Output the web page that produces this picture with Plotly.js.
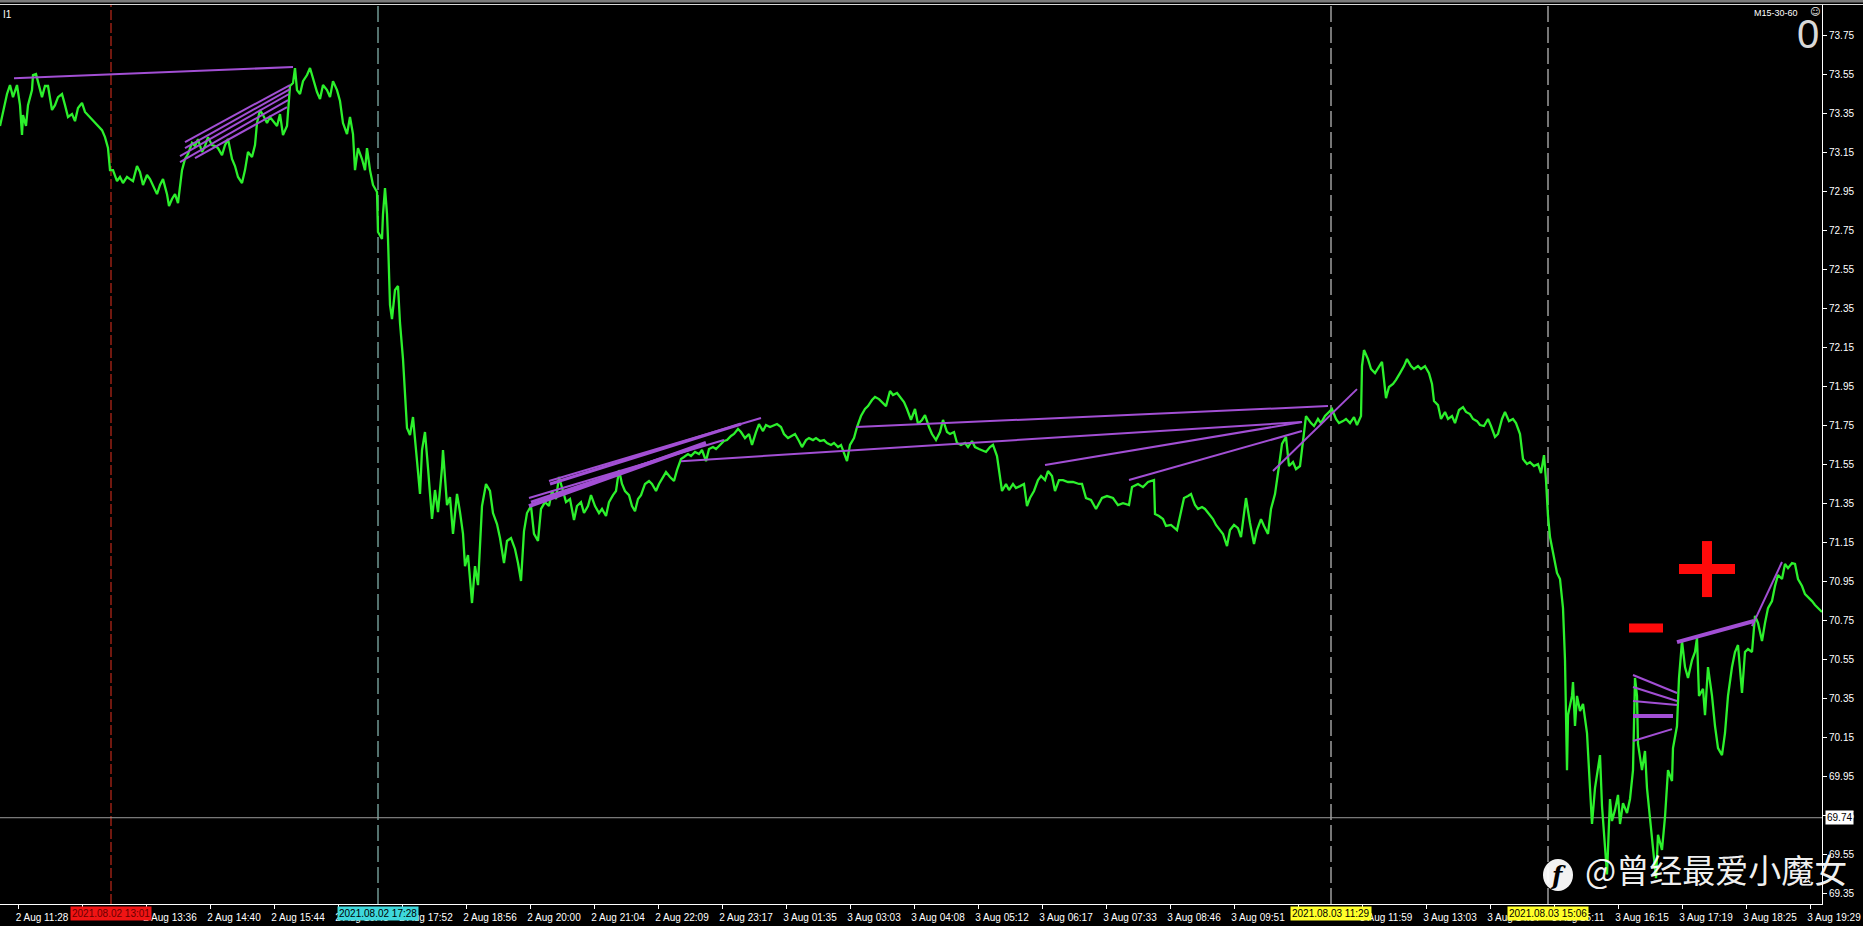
<!DOCTYPE html>
<html><head><meta charset="utf-8">
<script src="https://cdn.plot.ly/plotly-3.0.1.min.js"></script>
<style>html,body{margin:0;padding:0;background:#000;overflow:hidden}#chart{width:1863px;height:926px}</style>
</head><body><div id="chart"></div>
<script>
// ---- M1 close series (bar index, close price) ----
const bars = [0,7,10,13,17,20,22,23,26,28,32,33,36,38,42,45,48,52,55,58,62,65,68,72,75,78,82,85,88,92,97,102,105,108,110,113,117,120,123,127,130,133,137,140,143,147,150,153,157,160,163,167,169,172,175,178,180,182,185,188,192,195,198,202,205,208,212,215,218,222,225,228,232,235,238,242,245,248,252,255,257,260,263,267,270,273,277,280,283,287,290,293,295,297,300,303,307,310,313,317,320,323,327,330,333,337,340,343,347,350,353,355,358,362,365,367,370,373,377,378,382,383,385,387,388,390,392,395,398,400,403,405,407,410,413,417,420,422,425,428,432,435,438,442,443,447,450,453,457,460,463,465,468,472,475,478,
482,486,490,493,497,500,504,507,511,515,518,521,524,527,531,534,538,541,545,549,552,556,559,563,566,570,574,577,581,584,588,591,595,599,602,606,609,613,616,619,622,625,629,632,635,638,641,645,649,652,656,659,663,666,670,674,677,681,684,688,691,695,699,702,706,709,713,716,720,724,727,731,734,738,741,745,749,752,756,759,763,766,770,774,777,781,784,788,791,795,799,802,806,809,813,816,820,824,827,831,834,838,841,845,847,850,854,857,861,865,868,872,875,879,882,886,890,893,897,900,904,907,911,915,918,922,925,929,932,936,940,943,947,950,954,957,961,965,968,972,975,979,982,986,990,993,997,1000,1002,1006,1009,1013,1016,1020,1024,1027,
1030,1034,1038,1041,1045,1048,1052,1055,1059,1063,1068,1073,1079,1082,1086,1091,1096,1102,1107,1113,1118,1123,1129,1132,1138,1143,1148,1154,1155,1159,1163,1166,1171,1177,1180,1184,1188,1191,1195,1198,1202,1205,1209,1213,1216,1220,1223,1227,1230,1234,1238,1241,1245,1246,1250,1254,1257,1261,1264,1268,1271,1275,1279,1282,1286,1289,1293,1296,1300,1304,1306,1311,1314,1318,1321,1325,1329,1332,1336,1339,1343,1346,1350,1354,1357,1361,1362,1364,1368,1371,1375,1379,1382,1386,1389,1393,1396,1400,1404,1407,1411,1414,1418,1421,1425,1429,1432,1434,1438,1441,1445,1448,1452,1455,1459,1463,1466,1470,1473,1477,1480,1484,1488,1491,1495,1498,1502,1505,1509,1513,1516,1520,1523,1527,1530,1534,1538,1541,1544,1546,1548,1550,1554,1557,
1560,1563,1565,1567,1568,1572,1573,1575,1577,1580,1583,1587,1590,1592,1595,1598,1600,1602,1605,1607,1610,1612,1615,1618,1620,1623,1627,1630,1633,1635,1637,1638,1642,1645,1647,1650,1653,1656,1658,1662,1665,1668,1672,1673,1677,1679,1682,1685,1688,1692,1695,1697,1699,1703,1705,1708,1712,1715,1718,1722,1725,1728,1732,1735,1738,1742,1745,1748,1752,1755,1758,1762,1765,1768,1772,1775,1778,1782,1785,1788,1792,1795,1798,1802,1805,1808,1812,1815,1818,1822];
const closes = [73.284,73.448,73.494,73.432,73.494,73.391,73.238,73.340,73.284,73.391,73.468,73.545,73.550,73.514,73.432,73.489,73.489,73.366,73.391,73.432,73.448,73.391,73.330,73.345,73.309,73.376,73.402,73.356,73.340,73.320,73.289,73.263,73.227,73.171,73.058,73.058,73.002,73.023,72.992,73.023,73.012,73.002,73.079,73.048,72.982,73.033,73.012,72.982,72.935,72.982,73.012,72.935,72.874,72.910,72.935,72.889,72.966,73.058,73.115,73.140,73.197,73.181,73.217,73.151,73.181,73.227,73.186,73.181,73.171,73.135,73.186,73.217,73.115,73.079,73.023,72.992,73.058,73.151,73.125,73.186,73.299,73.366,73.340,73.299,73.330,73.309,73.284,73.345,73.238,73.284,73.489,73.504,73.581,73.468,73.448,73.514,73.545,73.581,73.525,73.458,73.422,73.494,73.468,73.432,73.514,73.468,73.412,73.299,73.243,73.330,73.243,73.058,73.171,73.115,73.058,73.171,73.058,72.982,72.946,72.741,72.705,72.833,72.966,72.833,72.705,72.367,72.295,72.444,72.464,72.275,72.090,71.906,71.737,71.701,71.793,71.568,71.399,71.624,71.716,71.532,71.271,71.419,71.306,71.532,71.624,71.342,71.383,71.194,71.399,71.306,71.194,71.029,71.086,70.840,71.029,70.932,
71.337,71.450,71.414,71.301,71.245,71.173,71.045,71.158,71.173,71.117,71.045,70.953,71.209,71.301,71.337,71.194,71.158,71.322,71.357,71.337,71.414,71.373,71.486,71.414,71.357,71.373,71.265,71.337,71.357,71.301,71.337,71.393,71.337,71.301,71.322,71.286,71.357,71.393,71.414,71.521,71.450,71.414,71.393,71.337,71.311,71.373,71.393,71.450,71.465,71.450,71.414,71.450,71.486,71.511,71.486,71.465,71.521,71.578,71.588,71.603,71.593,71.614,71.603,71.624,71.567,71.629,71.639,71.629,71.650,71.670,71.675,71.696,71.706,71.732,71.716,71.685,71.706,71.650,71.716,71.757,71.721,71.752,71.742,71.752,71.757,71.742,71.706,71.685,71.696,71.706,71.670,71.639,71.675,71.685,71.675,71.685,71.670,71.675,71.660,71.650,71.660,71.639,71.650,71.593,71.567,71.650,71.685,71.742,71.798,71.834,71.849,71.880,71.896,71.885,71.870,71.849,71.926,71.906,71.916,71.896,71.870,71.834,71.778,71.834,71.757,71.778,71.803,71.742,71.706,71.675,71.716,71.778,71.716,71.706,71.716,71.660,71.650,71.660,71.639,71.670,71.639,71.629,71.624,71.614,71.639,71.650,71.593,71.486,71.414,71.450,71.419,71.450,71.429,71.439,71.450,71.337,
71.378,71.414,71.470,71.491,71.470,71.516,71.491,71.414,71.470,71.470,71.460,71.460,71.450,71.450,71.378,71.368,71.322,71.378,71.388,71.378,71.342,71.352,71.342,71.434,71.450,71.434,71.460,71.470,71.296,71.286,71.270,71.235,71.240,71.214,71.286,71.378,71.388,71.398,71.342,71.322,71.332,71.322,71.296,71.270,71.240,71.214,71.194,71.132,71.214,71.240,71.224,71.178,71.322,71.378,71.250,71.142,71.214,71.270,71.235,71.194,71.322,71.398,71.542,71.655,71.691,71.542,71.562,71.526,71.542,71.706,71.798,71.762,71.747,71.783,71.762,71.798,71.819,71.834,71.783,71.762,71.772,71.783,71.762,71.793,71.752,71.798,72.054,72.136,72.090,72.039,72.018,72.054,72.075,71.890,71.947,71.962,71.983,72.018,72.054,72.090,72.054,72.039,72.054,72.039,72.054,72.018,71.962,71.875,71.854,71.783,71.819,71.783,71.798,71.762,71.829,71.844,71.819,71.808,71.783,71.772,71.752,71.747,71.783,71.747,71.691,71.706,71.783,71.819,71.772,71.783,71.762,71.706,71.578,71.552,71.562,71.542,71.552,71.506,71.598,71.470,71.286,71.178,71.065,70.994,
70.963,70.814,70.548,69.984,70.266,70.364,70.435,70.210,70.364,70.287,70.323,70.174,69.892,69.708,69.892,69.984,70.061,69.800,69.575,69.450,69.836,69.723,69.780,69.857,69.708,69.815,69.764,69.836,69.984,70.456,70.364,70.118,69.984,70.082,69.892,69.744,69.575,69.430,69.652,69.575,69.744,69.984,69.928,70.097,70.210,70.456,70.645,70.512,70.456,70.548,70.589,70.661,70.364,70.400,70.266,70.512,70.364,70.210,70.097,70.061,70.174,70.364,70.512,70.589,70.625,70.379,70.589,70.604,70.589,70.774,70.738,70.645,70.738,70.814,70.850,70.927,70.984,70.963,71.040,71.019,71.045,71.040,70.963,70.927,70.886,70.871,70.850,70.830,70.814,70.794];

// ---- time axis labels (one every 64 M1 bars) ----
const tickLabels = ["2 Aug 11:28","2 Aug 12:32","2 Aug 13:36","2 Aug 14:40","2 Aug 15:44","2 Aug 16:48","2 Aug 17:52","2 Aug 18:56","2 Aug 20:00","2 Aug 21:04","2 Aug 22:09","2 Aug 23:17","3 Aug 01:35","3 Aug 03:03","3 Aug 04:08","3 Aug 05:12","3 Aug 06:17","3 Aug 07:33","3 Aug 08:46","3 Aug 09:51","3 Aug 10:55","3 Aug 11:59","3 Aug 13:03","3 Aug 14:07","3 Aug 15:11","3 Aug 16:15","3 Aug 17:19","3 Aug 18:25","3 Aug 19:29"];
const tickLabelsCovered = [1, 20];   // fully hidden under the date boxes in the original
const firstTickBar = 18, barsPerTick = 64;

// ---- price axis ----
const priceTickStart = 69.35, priceTickStep = 0.2, priceTickCount = 23;
const priceMin = 69.298, priceMax = 73.904, lastBar = 1822;

// ---- vertical event markers ----
const eventBars = [111, 378, 1331, 1548];
const eventLabels = ["2021.08.02 13:01", "2021.08.02 17:28", "2021.08.03 11:29", "2021.08.03 15:06"];
const eventLineColors = ["#e4301e", "#a8e4dc", "#ececec", "#ececec"];
const eventBoxColors = ["#f01414", "#3ed8dc", "#ffff2a", "#ffff2a"];
const eventTextColors = ["#6a0000", "#000000", "#000000", "#000000"];

// ---- trend lines ----
const trendStartBar   = [14,185,185,180,180,195, 549,550,529,529,531, 856,681,1045,1129,1273, 1633,1633,1633,1633,1633,1677,1752];
const trendStartPrice = [73.529,73.202,73.171,73.130,73.099,73.120, 71.465,71.450,71.378,71.337,71.357, 71.742,71.567,71.547,71.470,71.516, 70.471,70.410,70.338,70.261,70.133,70.640,70.722];
const trendEndBar     = [293,290,290,289,288,287, 761,741,724,706,702, 1328,1302,1302,1302,1357, 1677,1677,1677,1673,1672,1754,1782];
const trendEndPrice   = [73.586,73.494,73.473,73.448,73.417,73.381, 71.788,71.757,71.675,71.660,71.650, 71.849,71.767,71.767,71.721,71.936, 70.379,70.338,70.317,70.261,70.194,70.748,71.050];
const trendWidth      = [2,2,2,2,2,2, 2,3,2,4,3, 2,2,2,2,2, 2,2,2,4,2,4,2];

const hLinePrice = 69.74;
const plusAnchor = {bar: 1707, price: 71.014};
const minusAnchor = {bar: 1646, price: 70.712};

// ---- layout geometry ----
const W = 1863, H = 926, M = {l: 0, r: 41, t: 5, b: 22};
const PW = W - M.l - M.r, PH = H - M.t - M.b;
const px = x => (x - M.l) / PW;            // page px -> paper x
const py = y => (H - M.b - y) / PH;        // page px -> paper y

const FONT = "Liberation Sans, Arial, sans-serif";
const traces = [{
  type: "scatter", mode: "lines", x: bars, y: closes,
  line: {color: "#2cf02c", width: 2.3}, hoverinfo: "skip"
}];
for (let i = 0; i < trendStartBar.length; i++) {
  traces.push({type: "scatter", mode: "lines",
    x: [trendStartBar[i], trendEndBar[i]], y: [trendStartPrice[i], trendEndPrice[i]],
    line: {color: "#a24fd4", width: trendWidth[i]}, hoverinfo: "skip"});
}

const shapes = [];
eventBars.forEach((b, i) => shapes.push({type: "line", xref: "x", yref: "paper", x0: b, x1: b, y0: 0, y1: 1,
  line: {color: eventLineColors[i], width: 1, dash: i === 0 ? "10px,3px" : "16px,5px"}, layer: "below"}));
shapes.push({type: "line", xref: "paper", yref: "y", x0: 0, x1: 1, y0: hLinePrice, y1: hLinePrice,
  line: {color: "#9a9a9a", width: 1}, layer: "below"});
// frame top
shapes.push({type: "rect", xref: "paper", yref: "paper", x0: 0, x1: px(W), y0: py(0), y1: py(2.5),
  fillcolor: "#7a7a7a", line: {width: 0}});
shapes.push({type: "line", xref: "paper", yref: "paper", x0: 0, x1: px(W), y0: py(4.5), y1: py(4.5),
  line: {color: "#d8d8d8", width: 1}});
// plus / minus marks (pixel-sized, anchored at chart coordinates)
const bar = (a, w, h) => ({type: "rect", xref: "x", yref: "y", xsizemode: "pixel", ysizemode: "pixel",
  xanchor: a.bar, yanchor: a.price, x0: -w / 2, x1: w / 2, y0: -h / 2, y1: h / 2,
  fillcolor: "#ff0a0a", line: {width: 0}});
shapes.push(bar(plusAnchor, 56, 10), bar(plusAnchor, 10, 56), bar(minusAnchor, 34, 9));
// watermark logo
shapes.push({type: "circle", xref: "paper", yref: "paper", x0: px(1543), x1: px(1573), y0: py(891), y1: py(859),
  fillcolor: "rgba(255,255,255,0.95)", line: {width: 0}});

const annotations = [];
eventBars.forEach((b, i) => annotations.push({xref: "x", yref: "paper", x: b, y: py(906), yanchor: "top",
  text: eventLabels[i], showarrow: false, bgcolor: eventBoxColors[i], borderpad: 1,
  font: {family: FONT, size: 10, color: eventTextColors[i]}}));
annotations.push({xref: "paper", yref: "y", x: px(1825), y: hLinePrice, xanchor: "left", yanchor: "middle",
  text: hLinePrice.toFixed(2), showarrow: false, bgcolor: "#ffffff", borderpad: 1,
  font: {family: FONT, size: 10, color: "#000"}});
annotations.push({xref: "paper", yref: "paper", x: px(1583), y: py(869), xanchor: "left", yanchor: "middle",
  text: "@曾经最爱小魔女", showarrow: false,
  font: {family: "Noto Sans CJK SC", size: 33, color: "rgba(255,255,255,0.95)"}});
annotations.push({xref: "paper", yref: "paper", x: px(1558), y: py(875), xanchor: "center", yanchor: "middle",
  text: "<b><i>f</i></b>", showarrow: false, font: {family: "DejaVu Serif", size: 24, color: "#000"}});
annotations.push({xref: "paper", yref: "paper", x: px(1), y: py(7), xanchor: "left", yanchor: "top",
  text: "I1", showarrow: false, font: {family: FONT, size: 10, color: "#fff"}});
annotations.push({xref: "paper", yref: "paper", x: px(1800), y: py(6), xanchor: "right", yanchor: "top",
  text: "M15-30-60", showarrow: false, font: {family: FONT, size: 9, color: "#fff"}});
annotations.push({xref: "paper", yref: "paper", x: px(1808), y: py(10), xanchor: "center", yanchor: "top",
  text: "0", showarrow: false, font: {family: "Liberation Sans Narrow, Liberation Sans, sans-serif", size: 40, color: "#d8d8d8"}});
annotations.push({xref: "paper", yref: "paper", x: px(1815), y: py(4), xanchor: "center", yanchor: "top",
  text: "☺", showarrow: false, font: {family: "DejaVu Sans", size: 10, color: "#f0f0f0"}});

const layout = {
  width: W, height: H, margin: M, paper_bgcolor: "#000", plot_bgcolor: "#000",
  showlegend: false, hovermode: false,
  xaxis: {range: [0, lastBar], showgrid: false, zeroline: false, showline: true, linecolor: "#ffffff", linewidth: 1,
    ticks: "outside", ticklen: 4, tickcolor: "#ffffff", tickwidth: 1, tickangle: 0, automargin: false,
    tickvals: tickLabels.map((_, k) => firstTickBar + barsPerTick * k),
    ticktext: tickLabels.map((t, k) => tickLabelsCovered.includes(k) ? "" : t),
    ticklabelshift: 24, ticklabeloverflow: "allow", tickfont: {family: FONT, size: 10, color: "#ffffff"}},
  yaxis: {range: [priceMin, priceMax], side: "right", showgrid: false, zeroline: false, showline: true,
    linecolor: "#ffffff", linewidth: 1, ticks: "outside", ticklen: 4, tickcolor: "#ffffff", automargin: false,
    tickvals: Array.from({length: priceTickCount}, (_, k) => +(priceTickStart + priceTickStep * k).toFixed(2)),
    ticktext: Array.from({length: priceTickCount}, (_, k) => (priceTickStart + priceTickStep * k).toFixed(2)),
    tickfont: {family: FONT, size: 10, color: "#ffffff"}},
  shapes, annotations
};
Plotly.newPlot("chart", traces, layout, {staticPlot: true, displayModeBar: false});
</script></body></html>
